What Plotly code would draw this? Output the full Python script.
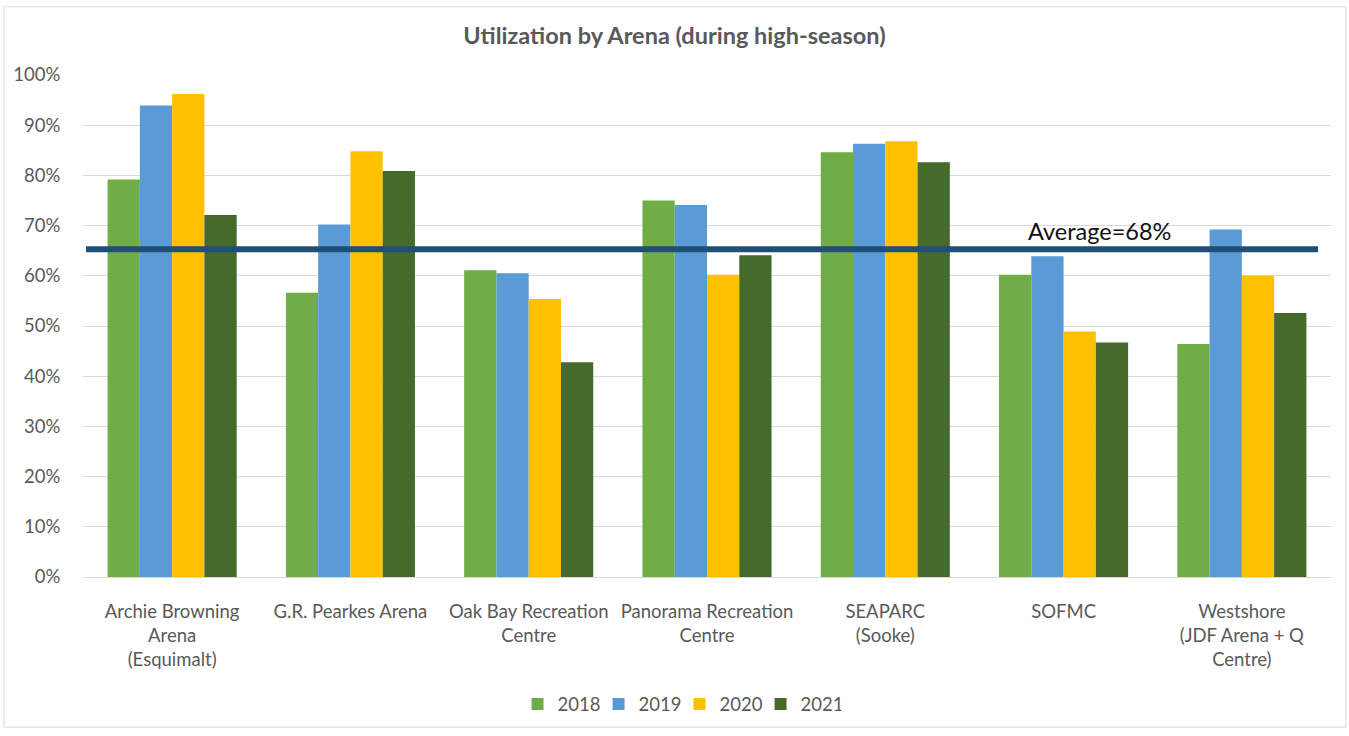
import plotly.graph_objects as go

categories = [
    "Archie Browning<br>Arena<br>(Esquimalt)",
    "G.R. Pearkes Arena",
    "Oak Bay Recreation<br>Centre",
    "Panorama Recreation<br>Centre",
    "SEAPARC<br>(Sooke)",
    "SOFMC",
    "Westshore<br>(JDF Arena + Q<br>Centre)",
]
years = ["2018", "2019", "2020", "2021"]
values_2018 = [79.2, 56.6, 61.1, 75.0, 84.6, 60.2, 46.4]
values_2019 = [93.9, 70.2, 60.5, 74.1, 86.3, 63.9, 69.2]
values_2020 = [96.2, 84.8, 55.4, 60.2, 86.8, 48.9, 60.0]
values_2021 = [72.1, 80.9, 42.8, 64.1, 82.6, 46.7, 52.6]
average_line = 65.3
average_label = "Average=68%"
y_ticks = [0, 10, 20, 30, 40, 50, 60, 70, 80, 90, 100]
y_tick_labels = ["0%", "10%", "20%", "30%", "40%", "50%", "60%", "70%", "80%", "90%", "100%"]

series = [values_2018, values_2019, values_2020, values_2021]
colors = ["#70AD47", "#5B9BD5", "#FFC000", "#446A2C"]

FONT = "Lato, 'Open Sans', sans-serif"
GRAY = "#595959"
LBL = 18.5

fig = go.Figure()
for name, vals, col in zip(years, series, colors):
    fig.add_trace(go.Bar(
        x=categories, y=vals, name=name,
        marker=dict(color=col, line=dict(width=0)),
    ))

fig.add_shape(type="line", xref="paper", yref="y",
              x0=0.0024, x1=0.9896, y0=average_line, y1=average_line,
              line=dict(color="#1F4E79", width=6), layer="above")

fig.add_annotation(x=5.2, y=average_line, xref="x", yref="y",
                   text=average_label, showarrow=False,
                   yanchor="bottom", yshift=2,
                   font=dict(family=FONT, size=23.5, color="#111111"))

# chart area border
fig.add_shape(type="rect", xref="paper", yref="paper",
              x0=-0.0633, x1=1.012, y0=-0.299, y1=1.136,
              line=dict(color="#d9d9d9", width=1), layer="below")

fig.update_layout(
    width=1349, height=736,
    margin=dict(l=83, r=18, t=75, b=154),
    paper_bgcolor="white", plot_bgcolor="white",
    barmode="group", bargap=0.276, bargroupgap=0,
    title=dict(text="<b>Utilization by Arena (during high-season)</b>",
               x=0.5, xanchor="center", y=0.951, yanchor="middle",
               font=dict(family=FONT, size=23.5, color=GRAY)),
    font=dict(family=FONT, size=LBL, color=GRAY),
    legend=dict(orientation="h", x=0.478, xanchor="center",
                y=-0.254, yanchor="middle",
                font=dict(family=FONT, size=LBL, color=GRAY),
                itemwidth=30, entrywidth=36, entrywidthmode="pixels",
                traceorder="normal"),
    xaxis=dict(showgrid=False, showline=True, linecolor="#d9d9d9", linewidth=1,
               ticks="outside", ticklen=18, tickcolor="white",
               tickfont=dict(family=FONT, size=LBL, color=GRAY)),
    yaxis=dict(range=[0, 100], tickmode="array", tickvals=y_ticks,
               ticktext=y_tick_labels,
               showgrid=True, gridcolor="#d9d9d9", gridwidth=1,
               zeroline=False, showline=False,
               ticks="outside", ticklen=18, tickcolor="white",
               tickfont=dict(family=FONT, size=LBL, color=GRAY)),
)

fig.write_html("out.html")
